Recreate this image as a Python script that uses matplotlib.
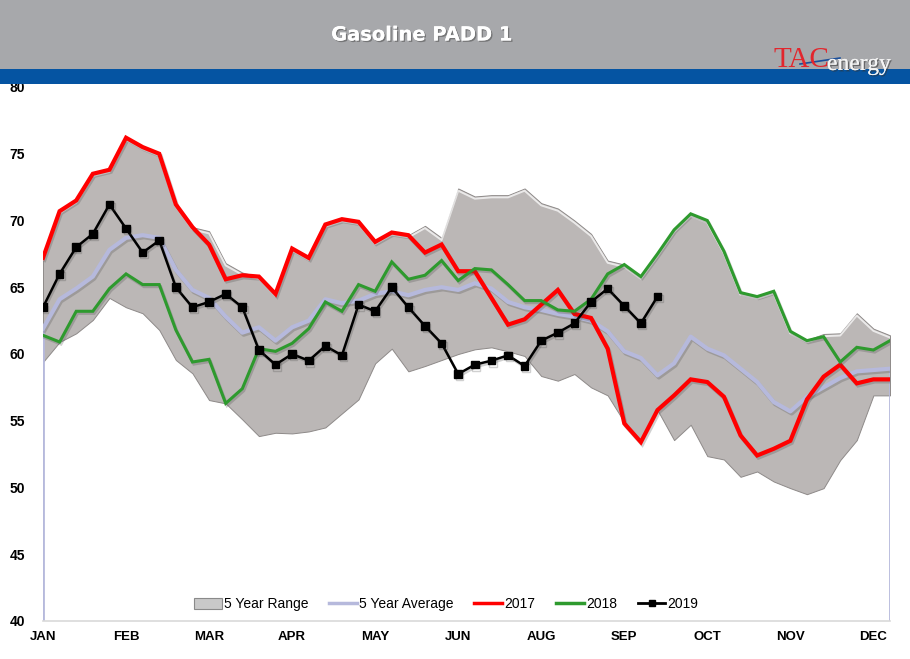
import matplotlib
matplotlib.use('Agg')
import matplotlib.pyplot as plt
import matplotlib.patches as patches
import matplotlib.patheffects as pe
from matplotlib.lines import Line2D
import numpy as np

# weekly values, week 0 = first week of January
range_hi = [67.2, 70.7, 71.5, 73.5, 73.8, 76.2, 75.5, 75.0, 71.2, 69.5,
            69.2, 66.8, 66.1, 65.8, 64.5, 67.9, 67.2, 69.7, 70.1, 69.9,
            68.4, 69.1, 68.9, 69.6, 68.7, 72.4, 71.8, 71.9, 71.9, 72.4,
            71.3, 70.9, 70.0, 69.0, 67.0, 66.7, 65.8, 67.5, 69.3, 70.5,
            70.0, 67.7, 64.6, 64.3, 64.7, 61.7, 61.05, 61.5, 61.55, 63.05,
            61.9, 61.4]
range_lo = [59.4, 60.9, 61.55, 62.55, 64.2, 63.5, 63.05, 61.8, 59.55, 58.55,
            56.55, 56.3, 55.1, 53.85, 54.1, 54.05, 54.2, 54.5, 55.55, 56.6,
            59.3, 60.4, 58.7, 59.1, 59.55, 60.0, 60.35, 60.5, 60.2, 59.85,
            58.35, 58.0, 58.5, 57.5, 56.9, 54.9, 53.4, 55.8, 53.55, 54.7,
            52.35, 52.1, 50.8, 51.2, 50.45, 49.95, 49.5, 49.95, 52.05, 53.55,
            56.9, 56.9]
avg5 = [61.9, 64.1, 64.9, 65.8, 67.8, 68.7, 68.9, 68.7, 66.3, 64.8,
        64.2, 62.8, 61.6, 62.0, 61.0, 62.0, 62.5, 64.1, 63.8, 64.0,
        64.5, 64.7, 64.4, 64.8, 65.0, 64.8, 65.3, 64.9, 63.9, 63.5,
        63.3, 63.0, 62.8, 62.5, 61.7, 60.2, 59.7, 58.4, 59.3, 61.3,
        60.4, 59.9, 58.9, 57.9, 56.4, 55.7, 56.8, 57.5, 58.2, 58.7,
        58.8, 58.9]
y2017 = [67.2, 70.7, 71.5, 73.5, 73.8, 76.2, 75.5, 75.0, 71.2, 69.5,
         68.2, 65.6, 65.9, 65.8, 64.5, 67.9, 67.2, 69.7, 70.1, 69.9,
         68.4, 69.1, 68.9, 67.6, 68.2, 66.2, 66.2, 64.2, 62.2, 62.6,
         63.7, 64.8, 63.0, 62.7, 60.4, 54.8, 53.4, 55.8, 56.9, 58.1,
         57.9, 56.8, 53.9, 52.4, 52.9, 53.5, 56.6, 58.3, 59.2, 57.8,
         58.1, 58.1]
y2018 = [61.4, 60.9, 63.2, 63.2, 64.9, 66.0, 65.2, 65.2, 61.8, 59.4,
         59.6, 56.3, 57.4, 60.4, 60.2, 60.8, 61.9, 63.9, 63.2, 65.2,
         64.7, 66.9, 65.6, 65.9, 67.0, 65.5, 66.4, 66.3, 65.2, 64.0,
         64.0, 63.3, 63.2, 64.1, 66.0, 66.7, 65.8, 67.5, 69.3, 70.5,
         70.0, 67.7, 64.6, 64.3, 64.7, 61.7, 61.0, 61.3, 59.4, 60.5,
         60.3, 61.0]
y2019 = [63.5, 66.0, 68.0, 69.0, 71.2, 69.4, 67.6, 68.5, 65.0, 63.5,
         63.9, 64.5, 63.5, 60.3, 59.2, 60.0, 59.5, 60.6, 59.9, 63.7,
         63.2, 65.0, 63.5, 62.1, 60.8, 58.5, 59.2, 59.5, 59.9, 59.1,
         61.0, 61.6, 62.3, 63.9, 64.9, 63.6, 62.3, 64.3]
month_labels = ['JAN', 'FEB', 'MAR', 'APR', 'MAY', 'JUN',
                'AUG', 'SEP', 'OCT', 'NOV', 'DEC']

weeks = np.arange(len(avg5))
label_weeks = np.arange(0, 5 * len(month_labels), 5)

W, H = 910, 659
fig = plt.figure(figsize=(W / 100, H / 100), dpi=100)

# header band, blue stripe
fig.patches.append(patches.Rectangle((0, 1 - 69 / H), 1, 69 / H,
                                     transform=fig.transFigure,
                                     facecolor='#a7a8ab', edgecolor='none'))
fig.patches.append(patches.Rectangle((0, 1 - 84 / H), 1, 15 / H,
                                     transform=fig.transFigure,
                                     facecolor='#0554a2', edgecolor='none'))
fig.text(422 / W, 1 - 35 / H, 'Gasoline PADD 1', color='white',
         fontsize=14, fontweight='bold', ha='center', va='center',
         family='DejaVu Sans',
         path_effects=[pe.withSimplePatchShadow(offset=(1, -1), shadow_rgbFace='#555555', alpha=0.6),
                       pe.Normal()])
fig.text(773 / W, 1 - 67 / H, 'TAC', color='#e2262d', fontsize=21,
         family='Liberation Serif', ha='left', va='baseline')
fig.text(827 / W, 1 - 70 / H, 'energy', color='#f4f4f4', fontsize=17,
         family='Liberation Serif', ha='left', va='baseline',
         path_effects=[pe.withSimplePatchShadow(offset=(1, -1), shadow_rgbFace='#333333', alpha=0.6),
                       pe.Normal()])
fig.lines.append(Line2D([800 / W, 840 / W], [1 - 64 / H, 1 - 58 / H],
                        transform=fig.transFigure, color='#1a4f9c', lw=1.2))

ax = fig.add_axes([43 / W, (H - 621) / H, 847 / W, 534 / H])
ax.set_xlim(0, 51)
ax.set_ylim(40, 80)

range_color = '#bbb7b6'
avg_color = '#b6b9dc'
shadow = [pe.SimpleLineShadow(offset=(1, -1.5), shadow_color='#444444', alpha=0.25),
          pe.Normal()]

ax.fill_between(weeks, range_lo, range_hi, facecolor=range_color,
                edgecolor='#8e8a89', linewidth=0.7, zorder=1)
ax.plot(weeks, range_hi, color='white', lw=1.4, alpha=0.0, zorder=1.5,
        path_effects=[pe.SimpleLineShadow(offset=(0, -1.6), shadow_color='white', alpha=0.7)])

ax.vlines([weeks[0], weeks[-1]], 40, [avg5[0], avg5[-1]], color=avg_color,
          lw=2, zorder=2)
ax.plot(weeks, avg5, color=avg_color, lw=3, zorder=3, path_effects=shadow,
        solid_joinstyle='round')
ax.plot(weeks, y2017, color='#ff0000', lw=3, zorder=4, path_effects=shadow,
        solid_joinstyle='miter')
ax.plot(weeks, y2018, color='#2e9a2e', lw=2.2, zorder=5, path_effects=shadow,
        solid_joinstyle='miter')
ax.plot(weeks[:len(y2019)], y2019, color='black', lw=1.8, marker='s',
        markersize=5.5, zorder=6, path_effects=shadow)

for s in ['top', 'left', 'right']:
    ax.spines[s].set_visible(False)
ax.spines['bottom'].set_color('#d9d9d9')
ax.spines['bottom'].set_linewidth(1.2)

ax.set_yticks(np.arange(40, 81, 5))
ax.set_xticks(label_weeks)
ax.set_xticklabels(month_labels)
ax.tick_params(axis='y', length=0, pad=13, labelsize=10)
ax.tick_params(axis='x', length=0, pad=7, labelsize=9.5)
for lab in ax.get_yticklabels() + ax.get_xticklabels():
    lab.set_fontweight('bold')
    lab.set_family('Liberation Sans')

handles = [patches.Patch(facecolor='#c9c9c9', edgecolor='#8a8a8a', lw=0.8),
           Line2D([], [], color=avg_color, lw=2.5),
           Line2D([], [], color='#ff0000', lw=2.5),
           Line2D([], [], color='#2e9a2e', lw=2.5),
           Line2D([], [], color='black', lw=2, marker='s', markersize=5)]
labels = ['5 Year Range', '5 Year Average', '2017', '2018', '2019']
ax.legend(handles, labels, loc='lower center', bbox_to_anchor=(0.476, -0.005),
          ncol=5, frameon=False, handlelength=2.0, handletextpad=0.15,
          columnspacing=1.5, handleheight=0.8,
          prop={'family': 'Liberation Sans', 'size': 10})

plt.savefig('out.png', dpi=100)
